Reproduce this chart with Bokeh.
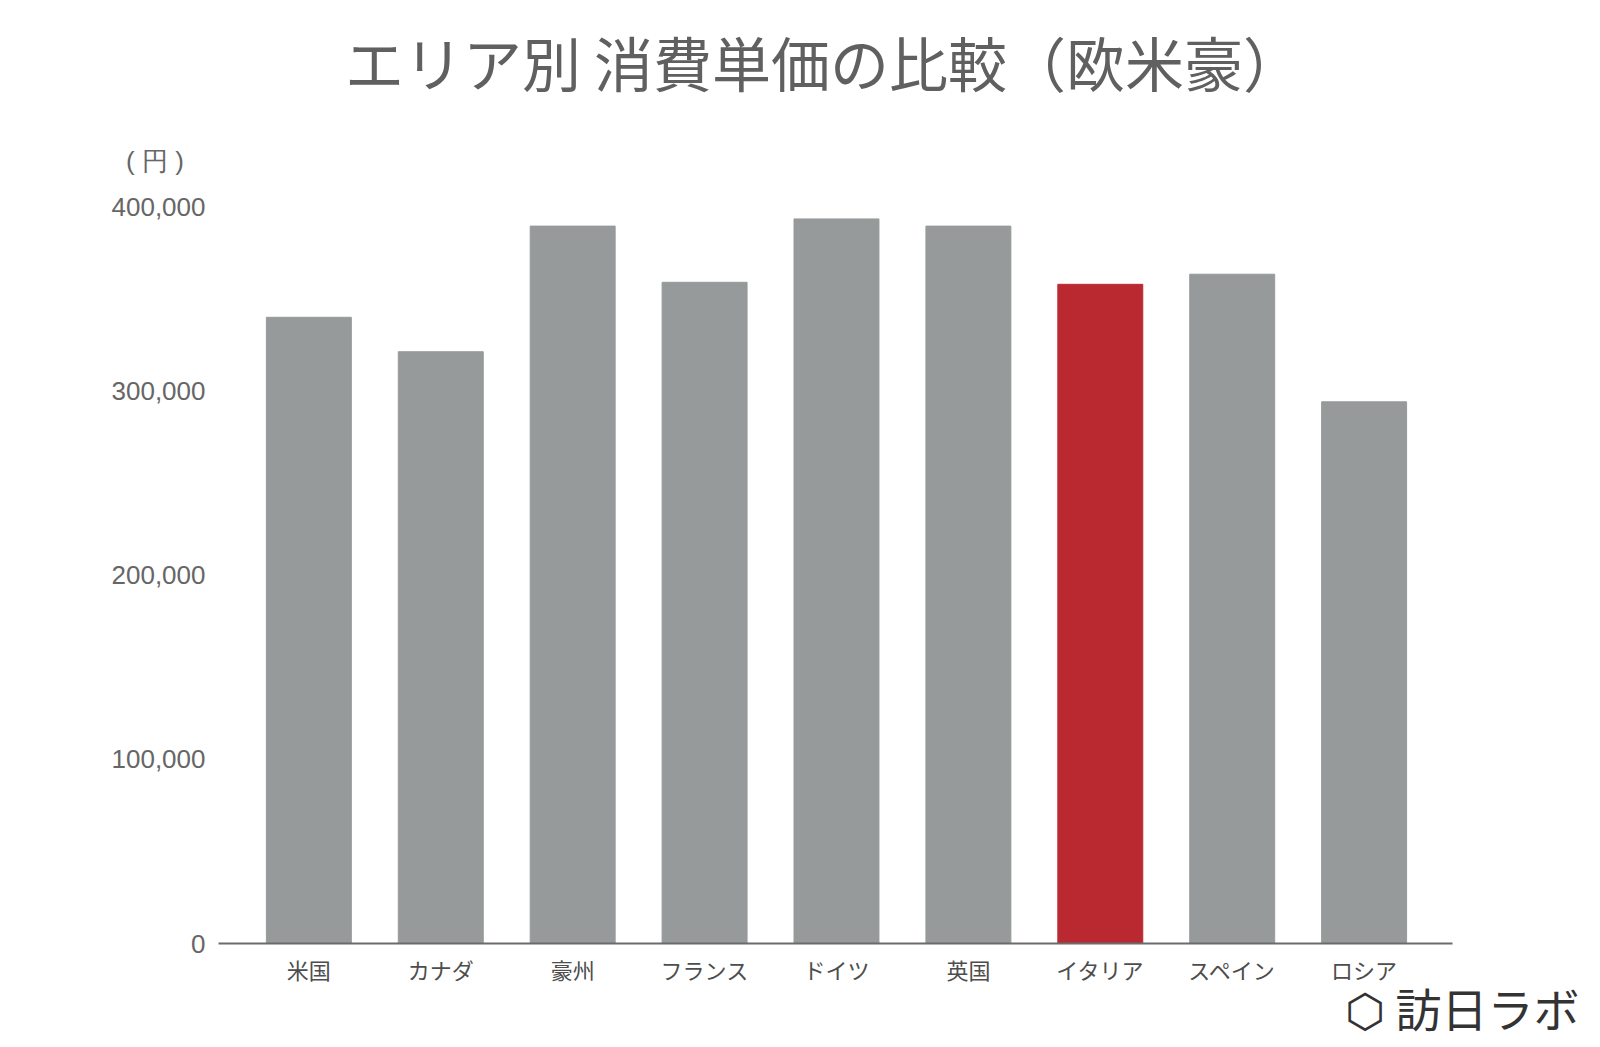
from bokeh.plotting import figure
from bokeh.models import Range1d, FixedTicker, NumeralTickFormatter, Title, ColumnDataSource, Label
from bokeh.embed import file_html
from bokeh.resources import INLINE

categories = ["米国", "カナダ", "豪州", "フランス", "ドイツ", "英国", "イタリア", "スペイン", "ロシア"]
values = [340000, 321300, 389500, 359000, 393400, 389500, 357900, 363400, 294100]
highlight = "イタリア"
y_ticks = [0, 100000, 200000, 300000, 400000]
unit_text = "( 円 )"
title_text = "エリア別 消費単価の比較（欧米豪）"
logo_text = "⬡ 訪日ラボ"

GRAY = "#979a9a"
RED = "#bb2930"
xs = list(range(len(categories)))
colors = [RED if c == highlight else GRAY for c in categories]
src = ColumnDataSource(dict(x=xs, top=values, color=colors))

# frame: left 218, right 1452, top 0, bottom 943 (canvas px)
X0, X1 = -0.685, 8.67
Y1 = 512000
FL, FR, FT, FB = 218, 1452, 0, 943
def dx(px):
    return X0 + (px - FL) / (FR - FL) * (X1 - X0)
def dy(py):
    return (FB - py) / (FB - FT) * Y1

p = figure(width=1600, height=1047, output_backend="svg", toolbar_location=None,
           x_range=Range1d(X0, X1), y_range=Range1d(0, Y1),
           min_border_left=FL, min_border_right=1600 - FR, min_border_top=FT, min_border_bottom=1047 - FB)
p.outline_line_color = None
p.xgrid.grid_line_color = None
p.ygrid.grid_line_color = None
p.background_fill_color = "white"
p.border_fill_color = "white"

p.vbar(x="x", top="top", width=0.644, color="color", source=src)

# axes
p.xaxis.ticker = FixedTicker(ticks=xs)
p.xaxis.major_label_overrides = {i: c for i, c in zip(xs, categories)}
p.xaxis.major_tick_line_color = None
p.xaxis.minor_tick_line_color = None
p.xaxis.axis_line_color = "#6b6b6b"
p.xaxis.axis_line_width = 2
p.xaxis.major_label_standoff = 3
p.xaxis.major_label_text_font = "Noto Sans CJK JP"
p.xaxis.major_label_text_font_size = "22px"
p.xaxis.major_label_text_color = "#4d4d4d"

unit_pos = dy(160)
p.yaxis.ticker = FixedTicker(ticks=y_ticks + [unit_pos])
p.yaxis.formatter = NumeralTickFormatter(format="0,0")
p.yaxis.major_label_overrides = {unit_pos: unit_text + "\u00a0\u00a0\u00a0"}
p.yaxis.axis_line_color = None
p.yaxis.major_tick_line_color = None
p.yaxis.minor_tick_line_color = None
p.yaxis.major_label_standoff = 7
p.yaxis.major_label_text_font = "Liberation Sans"
p.yaxis.major_label_text_font_size = "26px"
p.yaxis.major_label_text_color = "#666666"

p.add_layout(Label(x=dx(823), y=dy(61), text=title_text, text_align="center",
                   text_baseline="middle", text_font="Noto Sans CJK JP", text_font_size="59px",
                   text_color="#606060"))

logo = Title(text=logo_text, align="right", offset=-127, text_font="Noto Sans CJK JP",
             text_font_size="46px", text_color="#333333", text_font_style="normal", standoff=-32)
p.add_layout(logo, "below")

open("out.html", "w").write(file_html(p, INLINE))
